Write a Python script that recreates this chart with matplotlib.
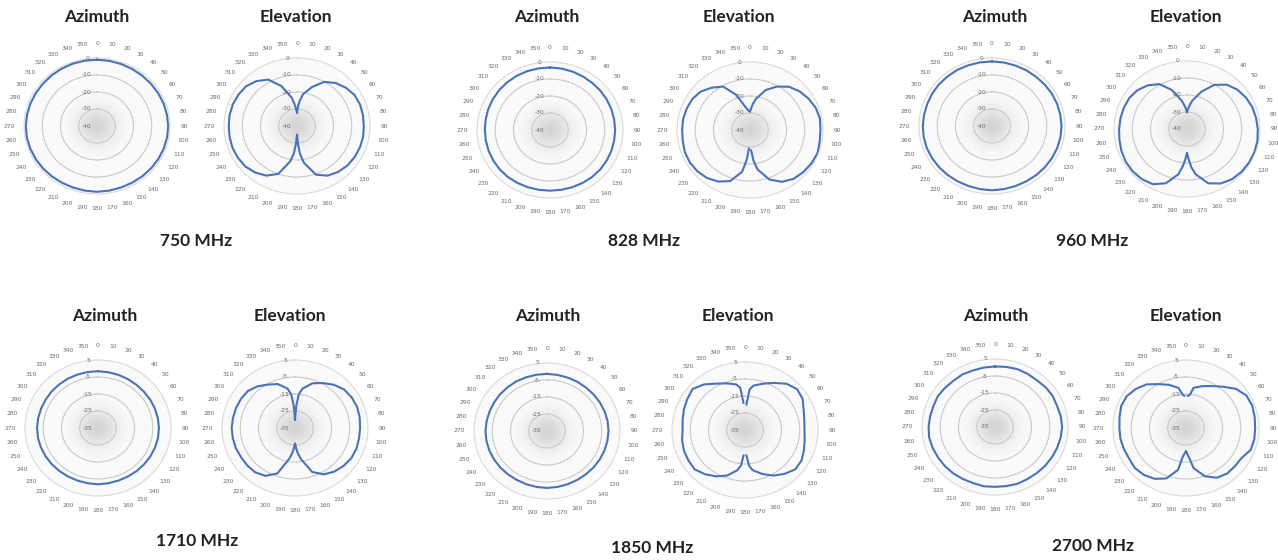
import numpy as np
import matplotlib
matplotlib.use("Agg")
import matplotlib.pyplot as plt

# angles (degrees, clockwise from top)
AZ_DEG = list(range(0, 360, 10))
EL_DEG = ([0, 3, 6] + list(range(10, 171, 10)) + [174, 177, 180, 183, 186]
          + list(range(190, 351, 10)) + [354, 357])

# azimuth patterns, dB, one value per AZ_DEG
AZ_750 = [-1.0, -1.1, -1.2, -1.3, -1.4, -1.4, -1.3, -1.2, -1.1, -1.0, -1.0, -1.1,
          -1.2, -1.3, -1.4, -1.5, -1.5, -1.4, -1.3, -1.4, -1.5, -1.5, -1.4, -1.3,
          -1.2, -1.1, -1.0, -1.0, -1.1, -1.2, -1.3, -1.3, -1.2, -1.1, -1.0, -1.0]
AZ_828 = [-3.2, -3.3, -3.5, -3.7, -3.9, -4.0, -4.1, -4.2, -4.3, -4.3, -4.3, -4.2,
          -4.1, -4.0, -4.0, -4.1, -4.2, -4.3, -4.3, -4.3, -4.2, -4.1, -4.0, -4.0,
          -4.1, -4.2, -4.3, -4.3, -4.2, -4.0, -3.8, -3.6, -3.4, -3.3, -3.2, -3.2]
AZ_960 = [-2.0, -2.1, -2.2, -2.2, -2.3, -2.2, -2.1, -2.0, -2.0, -1.9, -1.9, -2.0,
          -2.1, -2.2, -2.3, -2.4, -2.4, -2.3, -2.2, -2.3, -2.4, -2.4, -2.3, -2.2,
          -2.1, -2.0, -2.0, -2.1, -2.2, -2.2, -2.1, -2.0, -2.0, -1.9, -2.0, -2.0]
AZ_1710 = [-1.6, -1.7, -1.8, -1.9, -2.0, -2.0, -1.9, -1.8, -1.7, -1.6, -1.6, -1.7,
           -1.8, -1.9, -2.0, -2.1, -2.1, -2.0, -1.9, -2.0, -2.1, -2.1, -2.0, -1.9,
           -1.8, -1.7, -1.6, -1.6, -1.7, -1.8, -1.8, -1.7, -1.7, -1.6, -1.6, -1.6]
AZ_1850 = [-1.4, -1.5, -1.6, -1.6, -1.7, -1.6, -1.5, -1.4, -1.3, -1.3, -1.4, -1.5,
           -1.6, -1.7, -1.8, -1.8, -1.7, -1.6, -1.5, -1.6, -1.7, -1.8, -1.7, -1.6,
           -1.5, -1.4, -1.3, -1.3, -1.4, -1.5, -1.5, -1.4, -1.4, -1.3, -1.4, -1.4]
AZ_2700 = [0.6, 0.9, 1.2, 1.0, 0.8, 1.3, 1.5, 1.2, 1.6, 1.8, 1.5, 1.2,
           0.9, 0.7, 0.5, 0.4, 0.6, 0.3, 0.2, 0.4, 0.1, 0.3, 0.6, 0.8,
           1.0, 1.3, 1.6, 1.4, 1.1, 0.9, 1.2, 0.8, 0.5, 0.7, 0.4, 0.5]

# elevation patterns, dB, one value per EL_DEG
EL_750 = [-32, -28, -25, -21, -15.5, -10, -7, -5, -3.6, -3.2, -3.3, -3.4, -3.2, -3.3,
          -3.5, -3.9, -4.8, -6.3, -9.5, -18, -23, -29, -35, -30, -24, -19, -10, -6.3,
          -4.3, -3.0, -2.6, -2.4, -2.5, -2.6, -2.5, -2.6, -3.0, -3.6, -5.5, -8.5, -15,
          -23, -27, -30]
EL_828 = [-29, -27, -24.5, -21.5, -15, -10.5, -6.8, -4.6, -3.0, -1.7, -1.1, -1.4, -1.2,
          -0.6, -1.0, -1.7, -2.6, -4.8, -9, -16.5, -22, -28, -46, -29, -22, -15, -8,
          -5, -3.2, -2.3, -1.9, -2.0, -2.6, -2.8, -2.8, -3.1, -3.5, -4.8, -7.5, -10.5,
          -18, -26.5, -28, -28.8]
EL_960 = [-30, -28, -26, -23, -16.5, -10, -6, -4, -2.8, -2.0, -1.6, -1.2, -0.8, -0.6,
          -0.7, -0.9, -1.5, -3, -6, -13, -17.5, -22, -26, -22, -18, -13, -6, -2.5,
          -1.5, -1.2, -1.3, -1.8, -2.4, -2.8, -3.0, -3.2, -3.5, -4.5, -6.5, -9.5,
          -15.5, -23, -26, -28]
EL_1710 = [-30, -22, -15, -11.5, -7, -4.5, -1.8, 0.2, 0.9, 1.2, 1.0, 0.7, 0.6, 0.8,
           0.6, -0.3, -1.5, -3.5, -7.5, -16.5, -20, -23, -26, -23, -20, -16.5, -6.5,
           -2.5, -1.0, -0.8, -0.8, -0.5, -0.4, -0.3, -0.5, -0.6, -0.8, -1.2, -3, -5.5,
           -7.5, -11.5, -15, -22]
EL_1850 = [-48, -20, -11, -8.5, -6, -3, 0.5, 2.3, 1.5, -0.8, -2.0, -2.4, -1.8, -0.6,
           0.8, 1.0, -1.3, -4, -7.5, -11, -14, -20, -44, -20, -14, -11, -6.5, -3.5,
           -1.0, 1.0, 0.8, 0.6, 0.0, -0.8, -0.3, 0.6, 1.5, 2.5, 0.0, -3.5, -5.8, -7.8,
           -10, -19]
EL_2700 = [-42.5, -16, -15.5, -11, -8.8, -6.5, -3.3, 0.8, 3.2, 3.6, 3.2, 2.9, 3.0, 2.7,
           0.2, 0.0, 0.0, -1.2, -4.8, -11, -17, -19.5, -21.5, -20, -18, -10, -3.4,
           -0.5, 1.0, 1.6, 1.0, 1.2, 1.5, 1.5, 2.0, 2.8, 2.5, 0.8, -1.5, -5.2, -8,
           -11, -15, -16]

FREQ_LABELS = ["750 MHz", "828 MHz", "960 MHz", "1710 MHz", "1850 MHz", "2700 MHz"]
ANGLE_LABELS = [str(a) for a in range(0, 360, 10)]

TOP_TICKS = [0, -10, -20, -30, -40]
BOTTOM_TICKS = [5, -5, -15, -25, -35]

W, H = 1278, 560
BLUE = "#4a72b8"
TITLE_FONT = dict(family=["Lato", "DejaVu Sans"], weight="bold", size=12.5, color="#222222")

fig = plt.figure(figsize=(W / 100, H / 100), dpi=100)
fig.patch.set_facecolor("white")


def polar_panel(cx, cy, deg, vals, ticks):
    rx, ry = 73, 68
    ax = fig.add_axes([(cx - rx) / W, (H - cy - ry) / H, 2 * rx / W, 2 * ry / H],
                      projection="polar")
    ax.set_aspect("auto")
    rmax, rmin = ticks[0], ticks[-1]
    ax.set_theta_zero_location("N")
    ax.set_theta_direction(-1)
    ax.set_facecolor("#fafafa")

    # soft grey shading around the centre
    th = np.linspace(0, 2 * np.pi, 90)
    rr = np.linspace(rmin, rmax, 80)
    T, R = np.meshgrid(th, rr)
    shade = 0.98 - 0.15 * np.exp(-((R - rmin) / 11.0) ** 2)
    ax.pcolormesh(T, R, shade, cmap="gray", vmin=0, vmax=1, shading="auto", zorder=0)

    t = np.deg2rad(list(deg) + [deg[0]])
    r = list(vals) + [vals[0]]
    ax.plot(t, r, color=BLUE, lw=1.5, zorder=3)

    ax.set_ylim(rmin, rmax)
    ax.set_yticks(ticks[1:-1])
    ax.set_yticklabels([])
    ax.yaxis.grid(True, color="#c9c9c9", lw=0.8)
    ax.xaxis.grid(False)
    ax.set_thetagrids(range(0, 360, 10), ANGLE_LABELS)
    ax.tick_params(axis="x", pad=0.0, labelsize=4.3, labelcolor="#6a6a6a")
    ax.spines["polar"].set_color("#dadada")
    ax.spines["polar"].set_linewidth(0.8)
    for v in ticks:
        ax.annotate(str(v), xy=(0, v), xytext=(-10, 0), textcoords="offset pixels",
                    ha="center", va="center", fontsize=4.3, color="#6a6a6a", zorder=4)
    return ax


# top row
polar_panel(97, 126, AZ_DEG, AZ_750, TOP_TICKS)
polar_panel(297, 126, EL_DEG, EL_750, TOP_TICKS)
polar_panel(550, 130, AZ_DEG, AZ_828, TOP_TICKS)
polar_panel(750, 130, EL_DEG, EL_828, TOP_TICKS)
polar_panel(992, 126, AZ_DEG, AZ_960, TOP_TICKS)
polar_panel(1187, 129, EL_DEG, EL_960, TOP_TICKS)
# bottom row
polar_panel(98, 428, AZ_DEG, AZ_1710, BOTTOM_TICKS)
polar_panel(295, 428, EL_DEG, EL_1710, BOTTOM_TICKS)
polar_panel(547, 431, AZ_DEG, AZ_1850, BOTTOM_TICKS)
polar_panel(745, 430, EL_DEG, EL_1850, BOTTOM_TICKS)
polar_panel(995, 427, AZ_DEG, AZ_2700, BOTTOM_TICKS)
polar_panel(1186, 428, EL_DEG, EL_2700, BOTTOM_TICKS)

titles = [(97, 17, "Azimuth"), (296, 17, "Elevation"),
          (547, 17, "Azimuth"), (739, 17, "Elevation"),
          (995, 17, "Azimuth"), (1186, 17, "Elevation"),
          (105, 316, "Azimuth"), (290, 316, "Elevation"),
          (548, 316, "Azimuth"), (738, 316, "Elevation"),
          (996, 316, "Azimuth"), (1186, 316, "Elevation")]
for x, y, s in titles:
    fig.text(x / W, 1 - y / H, s, ha="center", va="center", **TITLE_FONT)

freq_pos = [(196, 241), (644, 241), (1092, 241), (197, 541), (652, 548), (1093, 546)]
for (x, y), s in zip(freq_pos, FREQ_LABELS):
    fig.text(x / W, 1 - y / H, s, ha="center", va="center", **TITLE_FONT)

fig.savefig("out.png", dpi=100, facecolor="white")
